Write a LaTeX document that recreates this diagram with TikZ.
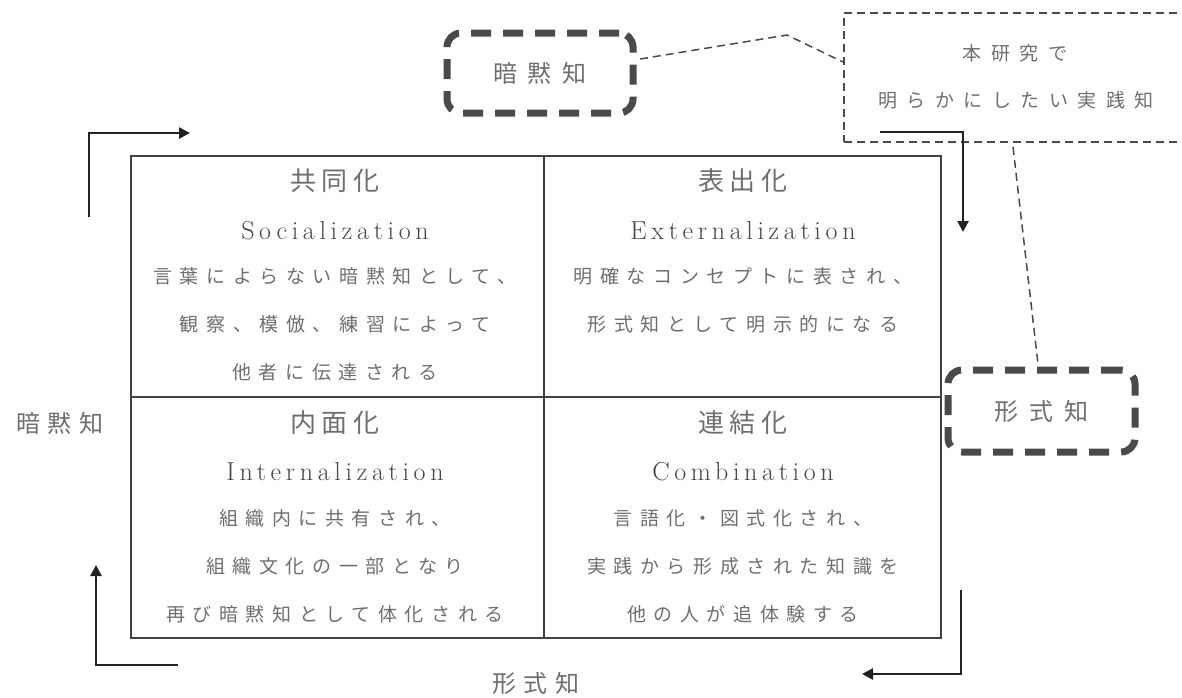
\documentclass[tikz,border=0pt]{standalone}
\usepackage{fontspec}
\usetikzlibrary{arrows.meta}
\newfontfamily\jtitle[LetterSpace=22]{Noto Sans CJK JP}
\newfontfamily\jbody[LetterSpace=40]{Noto Sans CJK JP}
\newfontfamily\jlabel[LetterSpace=32]{Noto Sans CJK JP}
\newfontfamily\jbox[LetterSpace=45]{Noto Sans CJK JP}
\newfontfamily\jcall[LetterSpace=50]{Noto Sans CJK JP}
\newfontfamily\enfont[LetterSpace=18]{Latin Modern Roman}
\definecolor{txt}{HTML}{6E6E6E}
\definecolor{entxt}{HTML}{454545}
\definecolor{gridc}{HTML}{424242}
\definecolor{dashc}{HTML}{4A4A4A}
\definecolor{arrc}{HTML}{222222}
\begin{document}
\begin{tikzpicture}[x=1pt,y=-1pt,
  cell/.style={draw=gridc, line width=2.5pt, inner sep=0pt, outer sep=0pt, anchor=north west},
  ttl/.style={anchor=base, inner sep=0pt, text=txt, font=\jtitle\fontsize{26}{30}\selectfont},
  eng/.style={anchor=base, inner sep=0pt, text=entxt, font=\enfont\fontsize{26}{30}\selectfont},
  bod/.style={anchor=base, inner sep=0pt, text=txt, font=\jbody\fontsize{19}{23}\selectfont},
  axis/.style={anchor=base, inner sep=0pt, text=txt, font=\jlabel\fontsize{24}{28}\selectfont},
  dbox/.style={draw=dashc, line width=7pt, rounded corners=14pt, dash pattern=on 20pt off 12pt, inner sep=0pt, text=txt, font=\jbox\fontsize{24}{28}\selectfont},
  callout/.style={draw=dashc, line width=1.5pt, dash pattern=on 8pt off 5pt, inner sep=0pt, anchor=north west},
  calltxt/.style={anchor=base, inner sep=0pt, text=txt, font=\jcall\fontsize{19}{23}\selectfont},
  pointer/.style={draw=dashc, line width=1.5pt, dash pattern=on 8pt off 5pt},
  arr/.style={draw=arrc, line width=2.5pt, -{Triangle[length=11pt,width=11pt]}}
]
\useasboundingbox (0,0) rectangle (1182,697);

% grid cells
\node[cell, minimum width=413pt, minimum height=241pt] (soc) at (131,156) {};
\node[cell, minimum width=397pt, minimum height=241pt] (ext) at (544,156) {};
\node[cell, minimum width=413pt, minimum height=241pt] (int) at (131,397) {};
\node[cell, minimum width=397pt, minimum height=241pt] (com) at (544,397) {};

% Socialization
\node[ttl] (soc-t) at (335,190.5) {共同化};
\node[eng] (soc-e) at (335,239) {Socialization};
\node[bod] (soc-1) at (335,283.5) {言葉によらない暗黙知として、};
\node[bod] (soc-2) at (335,331.5) {観察、模倣、練習によって};
\node[bod] (soc-3) at (335,379.5) {他者に伝達される};

% Externalization
\node[ttl] (ext-t) at (743,190.5) {表出化};
\node[eng] (ext-e) at (743,239) {Externalization};
\node[bod] (ext-1) at (743,283.5) {明確なコンセプトに表され、};
\node[bod] (ext-2) at (743,331.5) {形式知として明示的になる};

% Internalization
\node[ttl] (int-t) at (335,432) {内面化};
\node[eng] (int-e) at (335,480) {Internalization};
\node[bod] (int-1) at (335,525.5) {組織内に共有され、};
\node[bod] (int-2) at (335,573.5) {組織文化の一部となり};
\node[bod] (int-3) at (335,621.5) {再び暗黙知として体化される};

% Combination
\node[ttl] (com-t) at (743,432) {連結化};
\node[eng] (com-e) at (743,480) {Combination};
\node[bod] (com-1) at (743,525.5) {言語化・図式化され、};
\node[bod] (com-2) at (743,573.5) {実践から形成された知識を};
\node[bod] (com-3) at (743,621.5) {他の人が追体験する};

% axis labels
\node[axis] (tacit-l) at (60,432) {暗黙知};
\node[axis] (explicit-b) at (536,692) {形式知};

% dashed boxes
\node[dbox, minimum width=186pt, minimum height=80pt] (tacitbox) at (540,73) {暗黙知};
\node[dbox, minimum width=187pt, minimum height=82pt] (explbox) at (1041.5,411) {形式知};

% callout
\node[callout, minimum width=349pt, minimum height=129pt] (callout) at (843,12) {};
\node[calltxt] (call-1) at (1015,60) {本研究で};
\node[calltxt] (call-2) at (1016,107) {明らかにしたい実践知};

% pointer lines
\coordinate (p1) at (640,59);
\coordinate (p2) at (787,35);
\coordinate (p3) at (843,62);
\draw[pointer] (p1) -- (p2) -- (p3);
\coordinate (q1) at (1013,147);
\coordinate (q2) at (1038,364);
\draw[pointer] (q1) -- (q2);

% cycle arrows
\coordinate (a1s) at (89,217);
\coordinate (a1e) at (190,133);
\draw[arr] (a1s) |- (a1e);
\coordinate (a2s) at (880,132);
\coordinate (a2e) at (963,232);
\draw[arr] (a2s) -| (a2e);
\coordinate (a3s) at (961,590);
\coordinate (a3e) at (862,674);
\draw[arr] (a3s) |- (a3e);
\coordinate (a4s) at (178,665);
\coordinate (a4e) at (96,565);
\draw[arr] (a4s) -| (a4e);
\end{tikzpicture}
\end{document}
